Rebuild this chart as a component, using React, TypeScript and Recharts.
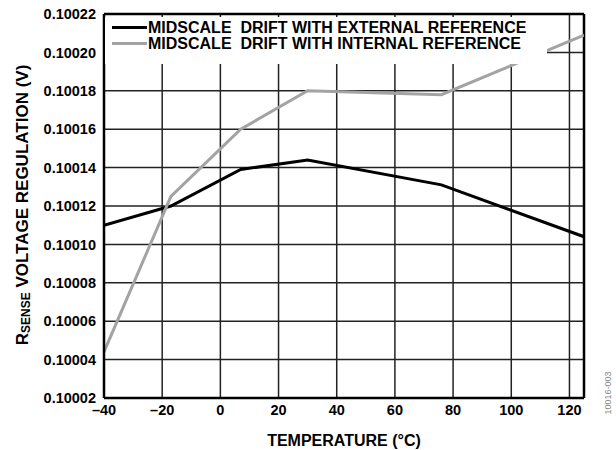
import React from "react";
import {
  LineChart,
  Line,
  XAxis,
  YAxis,
  CartesianGrid,
  ReferenceLine,
  Legend,
} from "recharts";

// temperature points (°C) shared by both curves
const temps = [-40, -17, 7, 30, 76, 125];
// midscale drift, external reference (V)
const externalRef = [0.10011, 0.10012, 0.100139, 0.100144, 0.100131, 0.100104];
// midscale drift, internal reference (V)
const internalRef = [0.100044, 0.100125, 0.10016, 0.10018, 0.100178, 0.100209];

const xTicks = [-40, -20, 0, 20, 40, 60, 80, 100, 120];
const yTicks = [
  0.10002, 0.10004, 0.10006, 0.10008, 0.1001, 0.10012, 0.10014, 0.10016,
  0.10018, 0.1002, 0.10022,
];

const seriesNames = [
  "MIDSCALE  DRIFT WITH EXTERNAL REFERENCE",
  "MIDSCALE  DRIFT WITH INTERNAL REFERENCE",
];

const data = temps.map((t, i) => ({
  temp: t,
  ext: externalRef[i],
  int: internalRef[i],
}));

const FONT = "'Liberation Sans', Arial, Helvetica, sans-serif";
const GREY = "#a3a3a3";

const LegendBox = () => (
  <div
    style={{
      fontFamily: FONT,
      fontWeight: 700,
      fontSize: 16,
      lineHeight: "15.6px",
      paddingTop: 3,
      whiteSpace: "pre",
    }}
  >
    {seriesNames.map((name, i) => (
      <div key={name} style={{ display: "flex", alignItems: "center" }}>
        <span
          style={{
            display: "inline-block",
            marginLeft: 7,
            width: 35,
            height: 3,
            background: i === 0 ? "#000" : GREY,
            marginRight: 1,
          }}
        />
        <span>{name}</span>
      </div>
    ))}
  </div>
);

export default function App() {
  const tick = { fill: "#000", fontSize: 14.5, fontWeight: 700, fontFamily: FONT };

  return (
    <div style={{ position: "absolute", left: 0, top: 0, width: 616, height: 450, background: "#fff" }}>
      <LineChart
        width={616}
        height={450}
        data={data}
        margin={{ top: 14, right: 32, left: 0, bottom: 0 }}
      >
        <CartesianGrid stroke="#222" strokeWidth={1.5} />
        <XAxis
          dataKey="temp"
          type="number"
          domain={[-40, 125]}
          ticks={xTicks}
          allowDataOverflow
          height={52}
          tickSize={0}
          tickMargin={7}
          tick={tick}
          axisLine={{ stroke: "#000", strokeWidth: 2.5 }}
          tickFormatter={(v: number) => String(v).replace("-", "\u2013")}
          label={{
            content: (p: any) => (
              <text
                x={p.viewBox.x + p.viewBox.width / 2}
                y={445.5}
                textAnchor="middle"
                fontFamily={FONT}
                fontWeight={700}
                fontSize={16}
                fill="#000"
              >
                TEMPERATURE (°C)
              </text>
            ),
          }}
        />
        <YAxis
          type="number"
          domain={[0.10002, 0.10022]}
          ticks={yTicks}
          allowDataOverflow
          width={104}
          tickSize={0}
          tickMargin={8}
          tick={tick}
          axisLine={{ stroke: "#000", strokeWidth: 2.5 }}
          tickFormatter={(v: number) => v.toFixed(5)}
          label={{
            content: () => (
              <text
                x={22}
                y={205}
                transform="rotate(-90, 22, 205)"
                textAnchor="middle"
                dominantBaseline="central"
                fontFamily={FONT}
                fontWeight={700}
                fontSize={17}
                fill="#000"
              >
                R
                <tspan fontSize={12} dy={4}>SENSE</tspan>
                <tspan dy={-4}> VOLTAGE REGULATION (V)</tspan>
              </text>
            ),
          }}
        />
        <ReferenceLine x={125} stroke="#000" strokeWidth={2.5} />
        <ReferenceLine y={0.10022} stroke="#000" strokeWidth={2.5} />
        <Line
          dataKey="ext"
          name={seriesNames[0]}
          stroke="#000"
          strokeWidth={3}
          dot={false}
          isAnimationActive={false}
        />
        <Line
          dataKey="int"
          name={seriesNames[1]}
          stroke={GREY}
          strokeWidth={3}
          dot={false}
          isAnimationActive={false}
        />
        <Legend
          layout="vertical"
          align="center"
          verticalAlign="middle"
          content={() => <LegendBox />}
          wrapperStyle={{ left: 105, top: 17, width: 442, height: 47, background: "#fff" }}
        />
      </LineChart>
      <div
        style={{
          position: "absolute",
          left: 608,
          top: 393,
          transform: "translate(-50%, -50%) rotate(-90deg)",
          fontFamily: FONT,
          fontSize: 9,
          color: "#888",
          whiteSpace: "nowrap",
        }}
      >
        10016-003
      </div>
    </div>
  );
}
